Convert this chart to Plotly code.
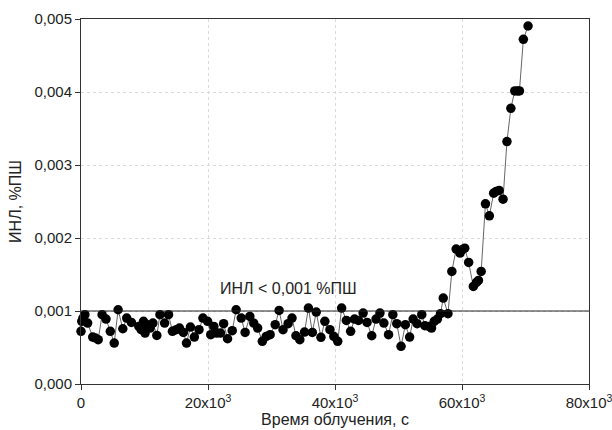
import plotly.graph_objects as go

# Irradiation time, s
time_s = [0, 123, 308, 615, 1046, 1846, 2277, 2708, 3323, 3938, 4615, 5231, 5846, 6585,
          7200, 7939, 9108, 9477, 9846, 10092, 10462, 10892, 11323, 11939, 12431, 13169,
          13785, 14400, 15016, 15508, 16123, 16616, 17231, 17847, 18585, 19200, 19939,
          20431, 20924, 21354, 21970, 22462, 23078, 23816, 24431, 25231, 25847, 26585,
          27200, 27816, 28554, 29170, 29785, 30585, 31201, 31816, 32616, 33232, 33847,
          34462, 35201, 35816, 36432, 37047, 37786, 38401, 39201, 39816, 40432, 41047,
          41786, 42463, 43078, 43693, 44432, 45047, 45786, 46463, 47078, 47694, 48432,
          49109, 49724, 50401, 51078, 51755, 52309, 52924, 53663, 54155, 54771, 55201,
          55632, 56124, 56617, 57047, 57786, 58401, 59078, 59694, 60002, 60432, 61048,
          61786, 62278, 62586, 63017, 63694, 64309, 64986, 65355, 65848, 66463, 67079,
          67694, 68309, 68740, 69048, 69663, 70402]

# INL, %FS
inl = [0.000721, 0.000858, 0.000903, 0.000949, 0.000835, 0.000643, 0.000630, 0.000607,
       0.000949, 0.000890, 0.000721, 0.000561, 0.001017, 0.000757, 0.000903, 0.000844,
       0.000789, 0.000744, 0.000858, 0.000698, 0.000812, 0.000766, 0.000835, 0.000666,
       0.000949, 0.000835, 0.000949, 0.000721, 0.000744, 0.000766, 0.000707, 0.000561,
       0.000780, 0.000643, 0.000744, 0.000903, 0.000858, 0.000675, 0.000789, 0.000698,
       0.000698, 0.000826, 0.000620, 0.000730, 0.001017, 0.000903, 0.000707, 0.000926,
       0.000835, 0.000766, 0.000584, 0.000652, 0.000675, 0.000812, 0.001008, 0.000744,
       0.000826, 0.000903, 0.000661, 0.000607, 0.000712, 0.001040, 0.000707, 0.000985,
       0.000639, 0.000858, 0.000744, 0.000652, 0.000584, 0.001040, 0.000871, 0.000721,
       0.000890, 0.000871, 0.000972, 0.000844, 0.000661, 0.000890, 0.000972, 0.000835,
       0.000675, 0.000949, 0.000826, 0.000516, 0.000812, 0.000643, 0.000890, 0.000826,
       0.000949, 0.000798, 0.000789, 0.000766, 0.000858, 0.000890, 0.000963, 0.001177,
       0.000963, 0.001542, 0.001848, 0.001793, 0.001838, 0.001861, 0.001665, 0.001337,
       0.001391, 0.001419, 0.001542, 0.002468, 0.002304, 0.002614, 0.002637, 0.002651,
       0.002532, 0.003321, 0.003777, 0.004015, 0.004015, 0.004015, 0.004722, 0.004904]

limit_value = 0.001
limit_label = "ИНЛ < 0,001 %ПШ"

x_tickvals = [0, 20000, 40000, 60000, 80000]
x_ticktext = ["0", "20x10<sup>3</sup>", "40x10<sup>3</sup>", "60x10<sup>3</sup>", "80x10<sup>3</sup>"]
y_tickvals = [0.000, 0.001, 0.002, 0.003, 0.004, 0.005]
y_ticktext = ["0,000", "0,001", "0,002", "0,003", "0,004", "0,005"]

x_title = "Время облучения, с"
y_title = "ИНЛ, %ПШ"

font_family = "Liberation Sans, Arial, sans-serif"

fig = go.Figure()
fig.add_trace(go.Scatter(
    x=time_s, y=inl, mode="lines+markers",
    line=dict(color="#666666", width=1),
    marker=dict(color="black", size=9.5),
    cliponaxis=False,
    showlegend=False,
))

fig.add_shape(type="line", xref="x domain", yref="y", x0=0, x1=1,
              y0=limit_value, y1=limit_value, line=dict(color="#222222", width=1))

fig.add_annotation(x=32700, y=0.00131, xref="x", yref="y", text=limit_label,
                   showarrow=False, font=dict(family=font_family, size=16, color="#222222"))

axis_common = dict(
    showline=True, linecolor="#333333", linewidth=1, mirror=True,
    ticks="outside", ticklen=5, tickcolor="#333333",
    showgrid=True, gridcolor="#d9d9d9", griddash="dot", gridwidth=1,
    zeroline=False, automargin=False,
    tickfont=dict(family=font_family, size=15, color="#222222"),
)

fig.update_xaxes(range=[0, 80000], tickvals=x_tickvals, ticktext=x_ticktext,
                 ticklabeloverflow="allow",
                 title=dict(text=x_title, font=dict(family=font_family, size=16, color="#222222"),
                            standoff=2),
                 **axis_common)
fig.update_yaxes(range=[0, 0.005], tickvals=y_tickvals, ticktext=y_ticktext,
                 title=dict(text=y_title, font=dict(family=font_family, size=16, color="#222222"),
                            standoff=8),
                 **axis_common)

fig.update_layout(
    width=612, height=430,
    margin=dict(l=81, r=23, t=19, b=46),
    plot_bgcolor="white", paper_bgcolor="white",
    font=dict(family=font_family),
)

fig.write_html("out.html")
